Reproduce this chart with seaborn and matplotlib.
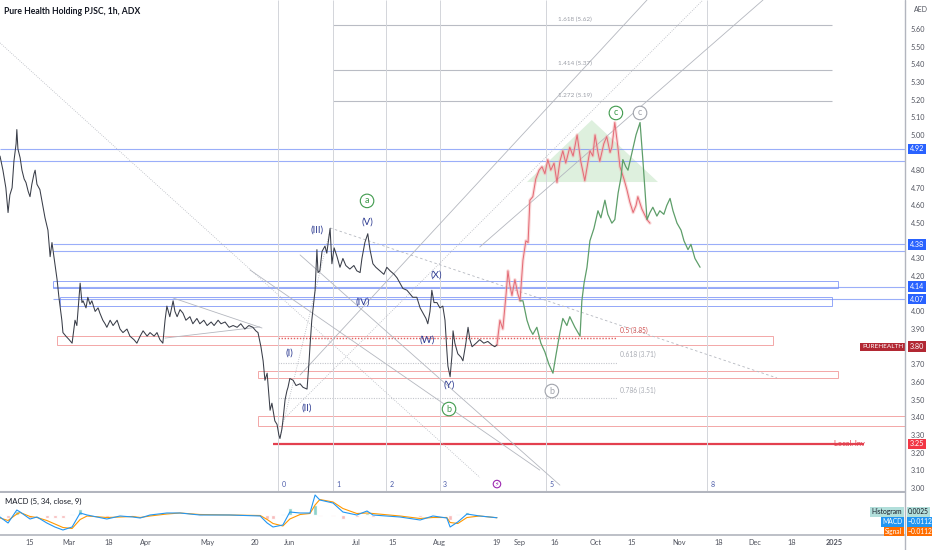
import matplotlib
matplotlib.use("Agg")
import matplotlib.pyplot as plt
import matplotlib.transforms as mtransforms
from matplotlib.patches import Rectangle, Polygon
from matplotlib.lines import Line2D
import seaborn as sns

sns.set_theme(style="white")
plt.rcParams["font.family"] = ["Lato", "DejaVu Sans"]

# --- price history (trading-day index, close) ---
hist_day = [0.0, 0.8, 1.6, 2.2, 2.7, 3.3, 3.8, 4.4, 4.6, 4.9, 5.5, 6.0, 6.6, 7.1, 7.7, 8.2, 8.7, 9.3, 9.6, 10.1,
            10.9, 11.5, 12.3, 13.1, 13.7, 14.2, 14.8, 15.6, 16.1, 16.4, 16.9, 17.2, 18.0, 18.9, 19.7, 20.2, 20.5,
            21.0, 21.9, 22.4, 22.7, 23.5, 24.0, 24.6, 25.1, 26.0, 26.8, 27.3, 28.1, 28.7, 29.2, 30.1, 30.9, 32.0,
            32.8, 33.6, 34.7, 35.5, 36.6, 37.4, 38.3, 39.1, 40.2, 41.0, 42.1, 42.9, 43.7, 44.5, 45.1, 45.6, 46.4,
            47.3, 47.8, 48.4, 49.2, 50.0, 50.8, 51.9, 52.7, 53.8, 54.6, 55.7, 56.6, 57.7, 58.5, 59.6, 60.4, 61.5,
            62.6, 63.7, 64.8, 65.8, 66.9, 68.0, 69.1, 69.9, 70.5, 71.3, 71.9, 72.4, 73.0, 73.8, 74.3, 75.1, 75.7,
            76.2, 76.5, 77.0, 77.3, 77.9, 78.4, 78.7, 79.2, 80.1, 80.9, 82.0, 82.8, 83.9, 84.4, 84.7, 85.2, 86.1,
            86.6, 86.9, 87.4, 88.0, 88.8, 89.3, 90.2, 90.7, 91.3, 92.1, 92.9, 93.7, 94.5, 95.6, 96.7, 97.5, 98.4,
            98.9, 99.7, 100.5, 101.1, 101.9, 102.7, 103.8, 104.9, 105.7, 106.6, 107.7, 108.5, 109.3, 110.1, 111.2,
            112.0, 112.8, 113.9, 114.8, 115.6, 116.4, 116.9, 117.5, 118.0, 118.6, 119.4, 120.2, 121.0, 121.6,
            122.1, 122.4, 123.0, 123.5, 123.8, 124.3, 125.1, 126.0, 126.5, 127.3, 127.9, 128.4, 129.0, 130.1,
            131.1, 132.2, 133.3, 134.4, 135.2, 135.8]
hist_price = [4.88, 4.80, 4.70, 4.56, 4.66, 4.70, 4.85, 4.95, 5.03, 4.92, 4.87, 4.80, 4.75, 4.73, 4.68, 4.65, 4.72,
              4.78, 4.80, 4.72, 4.69, 4.62, 4.53, 4.46, 4.31, 4.39, 4.30, 4.18, 4.08, 4.03, 3.95, 3.88, 3.86, 3.84,
              3.82, 3.90, 3.95, 3.92, 4.16, 4.05, 4.06, 4.02, 4.08, 4.04, 4.06, 4.00, 4.02, 3.99, 3.95, 3.93, 3.91,
              3.95, 3.92, 3.95, 3.90, 3.88, 3.90, 3.86, 3.84, 3.82, 3.86, 3.89, 3.86, 3.88, 3.86, 3.88, 3.84, 3.82,
              3.95, 4.03, 3.97, 4.06, 4.00, 3.97, 4.01, 3.99, 3.95, 3.97, 3.93, 3.96, 3.93, 3.95, 3.92, 3.94, 3.92,
              3.95, 3.93, 3.94, 3.91, 3.92, 3.91, 3.93, 3.90, 3.92, 3.91, 3.89, 3.88, 3.80, 3.72, 3.61, 3.65, 3.44,
              3.48, 3.38, 3.36, 3.30, 3.28, 3.33, 3.38, 3.50, 3.55, 3.57, 3.62, 3.61, 3.58, 3.59, 3.57, 3.56, 3.70,
              3.80, 3.95, 4.12, 4.35, 4.22, 4.23, 4.34, 4.37, 4.33, 4.47, 4.27, 4.36, 4.31, 4.25, 4.30, 4.26, 4.24,
              4.26, 4.23, 4.22, 4.30, 4.39, 4.44, 4.35, 4.27, 4.25, 4.23, 4.21, 4.25, 4.23, 4.21, 4.19, 4.16, 4.13,
              4.12, 4.10, 4.08, 4.08, 4.02, 3.99, 3.96, 3.93, 4.00, 4.12, 4.05, 4.05, 4.02, 4.03, 3.95, 3.78, 3.69,
              3.63, 3.75, 3.89, 3.82, 3.76, 3.74, 3.72, 3.82, 3.91, 3.84, 3.80, 3.82, 3.84, 3.82, 3.83, 3.81, 3.80,
              3.81]

# --- projected paths ---
red_day = [135.8, 136.6, 137.4, 138.3, 138.8, 139.3, 139.9, 140.7, 141.5, 142.1, 142.9, 143.7, 144.3, 144.8,
           145.6, 146.4, 147.3, 148.1, 148.9, 149.7, 150.5, 151.4, 152.2, 153.0, 153.8, 154.6, 155.7, 156.6,
           157.7, 158.7, 159.8, 160.7, 161.2, 162.0, 162.6, 163.4, 163.9, 165.0, 165.8, 166.7, 167.2, 168.0,
           168.9, 169.4, 170.5, 171.3, 172.1, 173.0, 173.8, 174.3, 175.4, 176.8, 177.6]
red_price = [3.81, 3.95, 3.90, 4.10, 4.23, 4.15, 4.09, 4.18, 4.10, 4.06, 4.29, 4.40, 4.39, 4.63, 4.65, 4.75,
             4.80, 4.82, 4.78, 4.86, 4.80, 4.84, 4.73, 4.85, 4.91, 4.84, 4.93, 4.88, 5.00, 4.85, 4.74, 4.85,
             4.91, 4.88, 5.00, 4.90, 4.85, 4.95, 4.99, 4.90, 4.93, 5.07, 4.92, 4.82, 4.75, 4.69, 4.62, 4.56,
             4.60, 4.65, 4.58, 4.52, 4.50]
green_day = [142.1, 142.9, 144.0, 144.8, 145.6, 146.7, 147.8, 148.9, 150.0, 151.1, 151.9, 153.0, 153.8, 154.9,
             155.7, 157.1, 158.5, 159.0, 159.6, 160.4, 161.2, 162.3, 163.4, 164.2, 165.3, 166.1, 167.2, 168.0,
             168.9, 169.7, 170.2, 171.0, 171.6, 172.7, 173.8, 174.9, 175.7, 176.8, 177.6, 178.4, 179.5, 180.3,
             181.4, 182.2, 183.1, 183.9, 185.0, 186.1, 186.9, 188.0, 188.8, 189.9, 191.3]
green_price = [4.06, 4.06, 3.95, 3.90, 3.87, 3.91, 3.82, 3.77, 3.70, 3.65, 3.75, 3.88, 3.96, 3.92, 3.97, 3.91,
               3.86, 4.06, 4.16, 4.25, 4.40, 4.47, 4.57, 4.53, 4.63, 4.55, 4.50, 4.52, 4.67, 4.76, 4.86, 4.82,
               4.80, 4.90, 5.00, 5.07, 4.85, 4.52, 4.56, 4.59, 4.54, 4.57, 4.55, 4.60, 4.64, 4.57, 4.50, 4.46,
               4.40, 4.35, 4.38, 4.30, 4.25]
tri_day = [144.0, 161.7, 179.8]
tri_price = [4.733, 5.084, 4.733]

# --- MACD (5, 34, close, 9) ---
macd_day = [0.0, 2.2, 4.6, 5.5, 8.2, 10.1, 12.8, 15.0, 17.2, 19.7, 21.9, 23.8, 29.2, 32.8, 36.3, 38.3, 41.0,
            45.6, 49.2, 54.6, 62.8, 71.1, 73.0, 74.6, 77.3, 79.2, 82.0, 84.7, 86.1, 87.4, 91.0, 93.7, 97.5,
            100.3, 101.9, 109.3, 114.8, 118.3, 122.1, 123.0, 125.1, 127.6, 131.1, 135.8]
macd_line = [-0.008, -0.032, 0.020, 0.012, -0.016, -0.008, -0.032, -0.048, -0.060, -0.048, 0.008, 0.0, -0.016,
             -0.004, -0.008, -0.012, 0.0, 0.008, 0.008, 0.0, 0.0, -0.004, -0.032, -0.048, -0.040, 0.012, 0.008,
             0.008, 0.080, 0.060, 0.048, 0.012, 0.0, 0.016, 0.0, -0.008, -0.020, -0.004, -0.012, -0.048, -0.028,
             0.004, -0.004, -0.011]
signal_line = [-0.012, -0.022, 0.004, 0.010, -0.006, -0.010, -0.022, -0.036, -0.050, -0.054, -0.018, -0.004,
               -0.010, -0.008, -0.006, -0.010, -0.004, 0.004, 0.008, 0.002, 0.0, -0.002, -0.018, -0.034, -0.044,
               -0.016, 0.002, 0.006, 0.040, 0.062, 0.052, 0.026, 0.006, 0.008, 0.006, -0.004, -0.014, -0.010,
               -0.010, -0.030, -0.034, -0.010, -0.004, -0.011]

# --- axes labels ---
price_ticks = [3.00, 3.10, 3.20, 3.30, 3.40, 3.50, 3.60, 3.70, 3.80, 3.90, 4.00, 4.10, 4.20, 4.30, 4.40, 4.50,
               4.60, 4.70, 4.80, 4.90, 5.00, 5.10, 5.20, 5.30, 5.40, 5.50, 5.60]
hidden_ticks = [3.80, 4.10, 4.40, 4.90]  # covered by price badges
date_ticks = [8.2, 18.9, 29.8, 39.9, 56.8, 69.7, 79.2, 97.5, 107.4, 120.2, 135.8, 142.1, 151.6, 162.8, 172.7,
              185.5, 196.4, 206.3, 216.4, 228.1]
date_labels = ["15", "Mar", "18", "Apr", "May", "20", "Jun", "Jul", "15", "Aug", "19", "Sep", "16", "Oct", "15",
               "Nov", "18", "Dec", "18", "2025"]

# --- drawn levels ---
blue_full = [4.92, 4.85]
blue_mid = [4.38, 4.34, 4.14, 4.07]
blue_boxes = [(14.5, 229.0, 4.13, 4.17), (16.4, 227.3, 4.03, 4.08)]
red_boxes = [(15.6, 211.2, 3.81, 3.86), (70.5, 229.0, 3.62, 3.66), (70.5, 247.3, 3.35, 3.41)]
fib_ext = [(5.62, "1.618 (5.62)"), (5.37, "1.414 (5.37)"), (5.19, "1.272 (5.19)")]
fib_ret = [(3.85, "0.5 (3.85)"), (3.71, "0.618 (3.71)"), (3.51, "0.786 (3.51)")]
cycle_day = [76.0, 91.0, 105.5, 120.2, 149.2, 193.2]
cycle_labels = ["0", "1", "2", "3", "5", "8"]
trend_lines = [((0.0, 5.521), (131.1, 3.06), ":"), ((90.2, 4.473), (212.3, 3.623), (0, (3, 3))),
               ((47.3, 4.076), (71.6, 3.906), "-"), ((45.1, 3.849), (71.0, 3.912), "-"),
               ((76.5, 3.288), (90.2, 4.461), ":"), ((82.0, 3.64), (176.8, 5.764), "-"),
               ((77.3, 3.385), (192.1, 5.764), ":"), ((131.1, 4.365), (208.5, 5.764), "-"),
               ((82.0, 4.320), (153.0, 3.016), "-"), ((68.3, 4.235), (147.5, 3.101), "-")]
wave_labels = [("(I)", 79.2, 3.764), ("(II)", 83.9, 3.453), ("(III)", 86.6, 4.461), ("(IV)", 99.2, 4.053),
               ("(V)", 100.3, 4.507), ("(W)", 116.7, 3.838), ("(X)", 119.1, 4.206), ("(Y)", 122.7, 3.583)]
circle_labels = [("a", 100.3, 4.626, "#3f9a4c"), ("b", 122.7, 3.447, "#3f9a4c"), ("c", 168.3, 5.124, "#3f9a4c"),
                 ("b", 150.8, 3.549, "#a0a3ab"), ("c", 174.9, 5.124, "#a0a3ab")]

XMAX = 247.3
fig = plt.figure(figsize=(9.32, 5.5), dpi=100)
ax = fig.add_axes([0, 58 / 550, 905 / 932, 492 / 550])
mx = fig.add_axes([0, 15 / 550, 905 / 932, 42 / 550])

# levels and boxes
for y in blue_full:
    ax.hlines(y, 0, XMAX, color="#6f8cf7", lw=0.8, alpha=0.7)
for y in blue_mid:
    ax.hlines(y, 14.5, XMAX, color="#6f8cf7", lw=0.8, alpha=0.7)
for x0, x1, y0, y1 in blue_boxes:
    ax.add_patch(Rectangle((x0, y0), x1 - x0, y1 - y0, fill=False, ec="#93a7f8", lw=0.7))
for x0, x1, y0, y1 in red_boxes:
    ax.add_patch(Rectangle((x0, y0), x1 - x0, y1 - y0, fill=False, ec="#f3a7a7", lw=0.7))
ax.hlines(3.25, 74.6, 236.0, color="#e3404f", lw=1.6)

for y, lab in fib_ext:
    ax.hlines(y, 91.0, 227.3, color="#b9bcc4", lw=0.8)
    ax.text(157.1, y + 0.035, lab, ha="center", va="center", fontsize=4.6, color="#9a9da6")
for i, (y, lab) in enumerate(fib_ret):
    c = "#e06060" if i == 0 else "#c4c6cc"
    ax.hlines(y, 76.0, 168.6, color=c, lw=1.0 if i == 0 else 0.8, ls=(0, (1, 1.2)))
    ax.text(169.4, y + 0.045, lab, ha="left", va="center", fontsize=4.8,
            color="#d05050" if i == 0 else "#a8abb3")

for d, lab in zip(cycle_day, cycle_labels):
    ax.vlines(d, 2.977, 5.764, color="#d3d5da", lw=0.7)
    ax.text(d + 0.9, 3.022, lab, ha="left", va="center", fontsize=5, color="#4a5aa8")
ax.text(135.8, 3.022, "⚡", ha="center", va="center", fontsize=4.5, color="#9c27b0",
        bbox=dict(boxstyle="circle,pad=0.2", fc="white", ec="#9c27b0", lw=0.8))

for (x0, y0), (x1, y1), ls in trend_lines:
    ax.plot([x0, x1], [y0, y1], color="#b4b7bf", lw=0.6, ls=ls)

ax.add_patch(Polygon(list(zip(tri_day, tri_price)), closed=True, fc="#c8e6c9", ec="none", alpha=0.6))

# price + projections
sns.lineplot(x=red_day, y=red_price, ax=ax, color="#f5b0b0", lw=2.4, alpha=0.45, estimator=None)
sns.lineplot(x=red_day, y=red_price, ax=ax, color="#e46c77", lw=0.75, estimator=None)
sns.lineplot(x=green_day, y=green_price, ax=ax, color="#5e9e6a", lw=0.9, estimator=None)
sns.lineplot(x=hist_day, y=hist_price, ax=ax, color="#393d48", lw=0.75, estimator=None)

for s, x, y in wave_labels:
    ax.text(x, y, s, ha="center", va="center", fontsize=7, color="#2b3990")
for s, x, y, c in circle_labels:
    ax.text(x, y, s, ha="center", va="center", fontsize=6.5, color=c,
            bbox=dict(boxstyle="circle,pad=0.25", fc="white", ec=c, lw=0.8))

ax.set_xlim(0, XMAX)
ax.set_ylim(2.977, 5.764)
ax.set_xticks([])
ax.yaxis.tick_right()
ax.set_yticks(price_ticks)
ax.set_yticklabels(["" if v in hidden_ticks else f"{v:.2f}" for v in price_ticks])
ax.tick_params(axis="y", length=0, pad=4, labelsize=5.2, labelcolor="#50535e")
for side in ["top", "left", "right"]:
    ax.spines[side].set_visible(False)
ax.spines["bottom"].set_color("#b2b5be")
ax.spines["bottom"].set_linewidth(1.5)

# right-axis badges
bt = mtransforms.blended_transform_factory(ax.transAxes, ax.transData)
for y, txt, bg in [(4.92, "4.92", "#2962ff"), (4.38, "4.38", "#2962ff"), (4.14, "4.14", "#2962ff"),
                   (4.07, "4.07", "#2962ff"), (3.80, "3.80", "#b22833"), (3.25, "3.25", "#f23645")]:
    ax.text(1 + 5 / 905, y, txt, transform=bt, ha="left", va="center", fontsize=5.2, color="white",
            clip_on=False, zorder=5, bbox=dict(boxstyle="square,pad=0.25", fc=bg, ec="none"))
ax.text(0.998, 3.80, "PUREHEALTH", transform=bt, ha="right", va="center", fontsize=4.6, color="white",
        zorder=5, bbox=dict(boxstyle="square,pad=0.25", fc="#b22833", ec="none"))
ax.text(0.956, 3.25, "Local. Inv", transform=bt, ha="right", va="center", fontsize=5.4, color="#e3404f",
        zorder=5)

# MACD pane
hist_vals = [m - s for m, s in zip(macd_line, signal_line)]
mx.bar(macd_day, hist_vals, width=1.1,
       color=["#80cbc4" if v >= 0 else "#f7b4b4" for v in hist_vals], alpha=0.9)
sns.lineplot(x=macd_day, y=signal_line, ax=mx, color="#ff9800", lw=0.8, estimator=None)
sns.lineplot(x=macd_day, y=macd_line, ax=mx, color="#2196f3", lw=0.8, estimator=None)
mx.set_xlim(0, XMAX)
mx.set_ylim(-0.08, 0.088)
mx.set_yticks([])
mx.set_xticks(date_ticks)
mx.set_xticklabels(date_labels)
mx.tick_params(axis="x", length=0, pad=3, labelsize=5.3, labelcolor="#50535e")
mx.get_xticklabels()[-1].set_fontweight("bold")
for side in ["top", "left", "right"]:
    mx.spines[side].set_visible(False)
mx.spines["bottom"].set_color("#b2b5be")
mx.spines["bottom"].set_linewidth(1.2)
mx.text(0.005, 0.8, "MACD (5, 34, close, 9)", transform=mx.transAxes, fontsize=5.6, color="#131722",
        va="center")
for yy, name, val, bg, fg in [(0.55, "Histogram", "0.0025", "#b2dfdb", "#131722"),
                              (0.31, "MACD", "\u22120.0112", "#2196f3", "white"),
                              (0.08, "Signal", "\u22120.0112", "#ff6d00", "white")]:
    mx.text(0.997, yy, name, transform=mx.transAxes, ha="right", va="center", fontsize=4.8, color=fg,
            bbox=dict(boxstyle="square,pad=0.2", fc=bg, ec="none"))
    mx.text(1 + 3 / 905, yy, val, transform=mx.transAxes, ha="left", va="center", fontsize=4.8, color=fg,
            clip_on=False, bbox=dict(boxstyle="square,pad=0.2", fc=bg, ec="none"))

fig.add_artist(Line2D([905 / 932, 905 / 932], [0, 1], transform=fig.transFigure, color="#b2b5be", lw=1.0))
fig.text(4 / 932, 1 - 12 / 550, "Pure Health Holding PJSC, 1h, ADX", fontsize=6.2, fontweight="bold",
         color="#131722", va="center")
fig.text(914 / 932, 1 - 10 / 550, "AED", fontsize=5, color="#50535e", va="center")

fig.savefig("out.png", dpi=100, facecolor="white")
